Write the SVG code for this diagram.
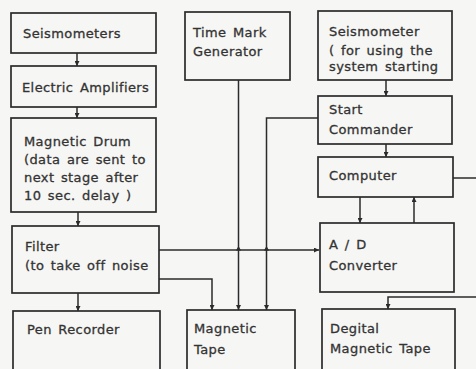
<svg xmlns="http://www.w3.org/2000/svg" width="476" height="369" viewBox="0 0 476 369">
<defs>
<style>
.box{fill:none;stroke:#2b2b2b;stroke-width:1.7}
.ln{fill:none;stroke:#2b2b2b;stroke-width:1.5}
.tri{fill:#2b2b2b}
text{font-family:"DejaVu Sans","Liberation Sans",sans-serif;font-size:13px;fill:#333;stroke:#333;stroke-width:0.3;letter-spacing:0.4px;word-spacing:2px}
</style>
<marker id="ah" viewBox="0 0 6 6" refX="6" refY="3" markerWidth="5" markerHeight="5" orient="auto" markerUnits="userSpaceOnUse">
<path d="M0,0 L6,3 L0,6 z" fill="#2b2b2b"/>
</marker>
</defs>
<rect x="0" y="0" width="476" height="369" fill="#f6f6f4"/>

<g id="connectors">
<line class="ln" x1="77" y1="53" x2="77" y2="66" marker-end="url(#ah)"/>
<line class="ln" x1="77" y1="107" x2="77" y2="118" marker-end="url(#ah)"/>
<line class="ln" x1="78" y1="212" x2="78" y2="226" marker-end="url(#ah)"/>
<line class="ln" x1="78" y1="293" x2="78" y2="311" marker-end="url(#ah)"/>
<path class="ln" d="M159,279 H212 V310" marker-end="url(#ah)"/>
<path class="ln" d="M159,250 H319" marker-end="url(#ah)"/>
<path class="tri" d="M236,250.5 L238.5,246 L241,250.5 z"/>
<path class="tri" d="M264,250.5 L266.5,246 L269,250.5 z"/>
<line class="ln" x1="238.5" y1="80" x2="238.5" y2="310" marker-end="url(#ah)"/>
<path class="ln" d="M318,118 H266.5 V310" marker-end="url(#ah)"/>
<line class="ln" x1="386" y1="80" x2="386" y2="96" marker-end="url(#ah)"/>
<line class="ln" x1="386" y1="144" x2="386" y2="157" marker-end="url(#ah)"/>
<line class="ln" x1="360" y1="197" x2="360" y2="223" marker-end="url(#ah)"/>
<line class="ln" x1="414" y1="223" x2="414" y2="197" marker-end="url(#ah)"/>
<line class="ln" x1="453" y1="178" x2="476" y2="178"/>
<path class="ln" d="M476,297 H388 V309" marker-end="url(#ah)"/>
</g>

<g id="seismometers">
<rect class="box" x="11" y="13" width="145" height="40"/>
<text x="23" y="38">Seismometers</text>
</g>
<g id="amplifiers">
<rect class="box" x="11" y="66" width="145" height="41"/>
<text x="22" y="92">Electric Amplifiers</text>
</g>
<g id="drum">
<rect class="box" x="11" y="118" width="145" height="94"/>
<text x="24" y="146">Magnetic Drum</text>
<text x="24" y="164">(data are sent to</text>
<text x="24" y="182">next stage after</text>
<text x="24" y="200">10 sec. delay )</text>
</g>
<g id="filter">
<rect class="box" x="12" y="226" width="147" height="67"/>
<text x="25" y="251">Filter</text>
<text x="25" y="270">(to take off noise</text>
</g>
<g id="pen">
<rect class="box" x="13" y="311" width="147" height="64"/>
<text x="27" y="334">Pen Recorder</text>
</g>
<g id="timemark">
<rect class="box" x="185" y="12" width="105" height="68"/>
<text x="193" y="37">Time Mark</text>
<text x="193" y="56">Generator</text>
</g>
<g id="magtape">
<rect class="box" x="187" y="310" width="108" height="65"/>
<text x="194" y="333">Magnetic</text>
<text x="194" y="354">Tape</text>
</g>
<g id="seismometer">
<rect class="box" x="318" y="11" width="134" height="69"/>
<text x="329" y="36">Seismometer</text>
<text x="329" y="55">( for using the</text>
<text x="329" y="71">system starting</text>
</g>
<g id="start">
<rect class="box" x="318" y="96" width="134" height="48"/>
<text x="329" y="114">Start</text>
<text x="329" y="134">Commander</text>
</g>
<g id="computer">
<rect class="box" x="318" y="157" width="135" height="40"/>
<text x="329" y="180">Computer</text>
</g>
<g id="adc">
<rect class="box" x="320" y="223" width="134" height="69"/>
<text x="329" y="249">A / D</text>
<text x="329" y="270">Converter</text>
</g>
<g id="digtape">
<rect class="box" x="322" y="309" width="133" height="66"/>
<text x="330" y="333">Degital</text>
<text x="330" y="353">Magnetic Tape</text>
</g>
</svg>
